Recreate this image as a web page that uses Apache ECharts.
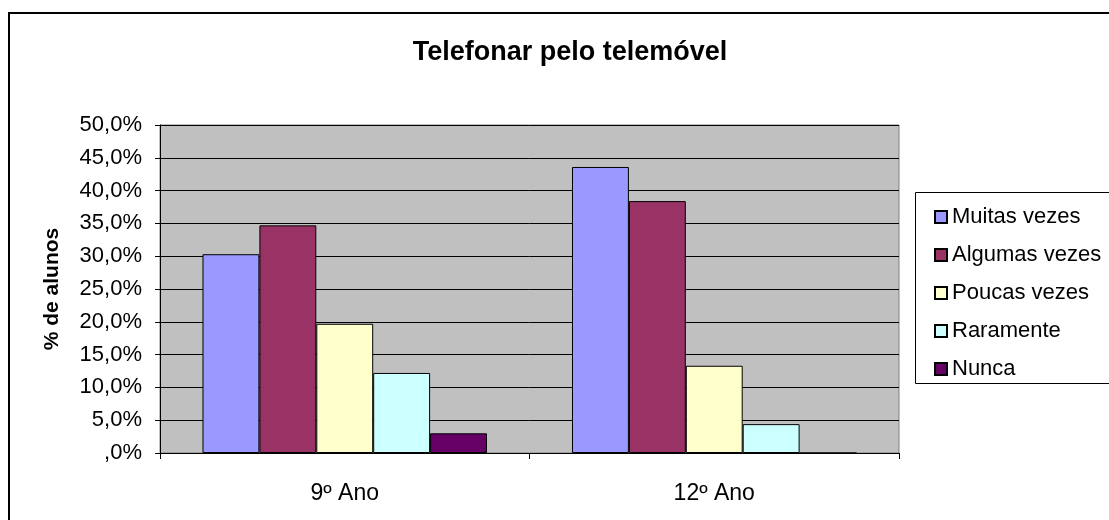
<!DOCTYPE html>
<html>
<head>
<meta charset="utf-8">
<script src="https://cdn.jsdelivr.net/npm/echarts@6/dist/echarts.min.js"></script>
<style>
  html, body { margin: 0; padding: 0; background: #fff; overflow: hidden; }
  #main { width: 1109px; height: 520px; }
</style>
</head>
<body>
<div id="main"></div>
<script>
// data
var anos = ['9º Ano', '12º Ano'];
var respostas = ['Muitas vezes', 'Algumas vezes', 'Poucas vezes', 'Raramente', 'Nunca'];
var muitasVezes = [30.3, 43.6];
var algumasVezes = [34.7, 38.4];
var poucasVezes = [19.7, 13.3];
var raramente = [12.2, 4.4];
var nunca = [3.0, 0];
var cores = ['#9999FF', '#993366', '#FFFFCC', '#CCFFFF', '#660066'];

var valores = [muitasVezes, algumasVezes, poucasVezes, raramente, nunca];
var fonte = '"Liberation Sans", Arial, sans-serif';

var myChart = echarts.init(document.getElementById('main'));

var series = respostas.map(function (nome, i) {
  return {
    name: nome,
    type: 'bar',
    data: valores[i],
    barGap: '0%',
    barCategoryGap: '23%',
    itemStyle: {
      color: cores[i],
      borderColor: '#000',
      borderWidth: 1
    }
  };
});

var option = {
  animation: false,
  backgroundColor: '#fff',
  textStyle: { fontFamily: fonte, color: '#000' },
  title: {
    text: 'Telefonar pelo telemóvel',
    left: 565,
    textAlign: 'center',
    top: 34,
    textStyle: { fontFamily: fonte, fontSize: 27, fontWeight: 'bold', color: '#000' }
  },
  graphic: [
    // outer chart frame (right and bottom run off the picture)
    {
      type: 'polyline',
      shape: { points: [[9, 600], [9, 13], [1200, 13]] },
      style: { fill: 'none', stroke: '#000', lineWidth: 2 },
      z: 100
    },
    // legend box, open to the right
    {
      type: 'line',
      shape: { x1: 915.5, y1: 192.5, x2: 1300, y2: 192.5 },
      style: { stroke: '#000', lineWidth: 1 }
    },
    {
      type: 'line',
      shape: { x1: 915.5, y1: 192.5, x2: 915.5, y2: 383.5 },
      style: { stroke: '#000', lineWidth: 1 }
    },
    {
      type: 'line',
      shape: { x1: 915.5, y1: 383.5, x2: 1300, y2: 383.5 },
      style: { stroke: '#000', lineWidth: 1 }
    }
  ],
  legend: {
    orient: 'vertical',
    left: 929,
    top: 201,
    itemWidth: 12,
    itemHeight: 12,
    itemGap: 16,
    icon: 'rect',
    data: respostas,
    textStyle: { fontFamily: fonte, fontSize: 22, color: '#000', overflow: 'none' }
  },
  grid: {
    left: 160,
    top: 125,
    width: 739,
    height: 328,
    show: true,
    backgroundColor: '#C0C0C0',
    borderColor: '#808080',
    borderWidth: 1
  },
  xAxis: {
    type: 'category',
    data: anos,
    axisLine: { lineStyle: { color: '#000', width: 1 } },
    axisTick: { show: true, length: 6, lineStyle: { color: '#000' } },
    axisLabel: { fontFamily: fonte, fontSize: 23, color: '#000', margin: 29 },
    splitLine: { show: false }
  },
  yAxis: {
    type: 'value',
    min: 0,
    max: 50,
    interval: 5,
    name: '% de alunos',
    nameLocation: 'middle',
    nameGap: 97,
    nameTextStyle: { fontFamily: fonte, fontSize: 21, fontWeight: 'bold', color: '#000' },
    axisLine: { show: true, lineStyle: { color: '#000', width: 1 } },
    axisTick: { show: true, length: 5, lineStyle: { color: '#000' } },
    axisLabel: {
      fontFamily: fonte,
      fontSize: 22,
      color: '#000',
      margin: 18,
      formatter: function (v) {
        return v === 0 ? ',0%' : v.toFixed(1).replace('.', ',') + '%';
      }
    },
    splitLine: { show: true, lineStyle: { color: '#000', width: 1 } }
  },
  series: series
};

myChart.setOption(option);
</script>
</body>
</html>
